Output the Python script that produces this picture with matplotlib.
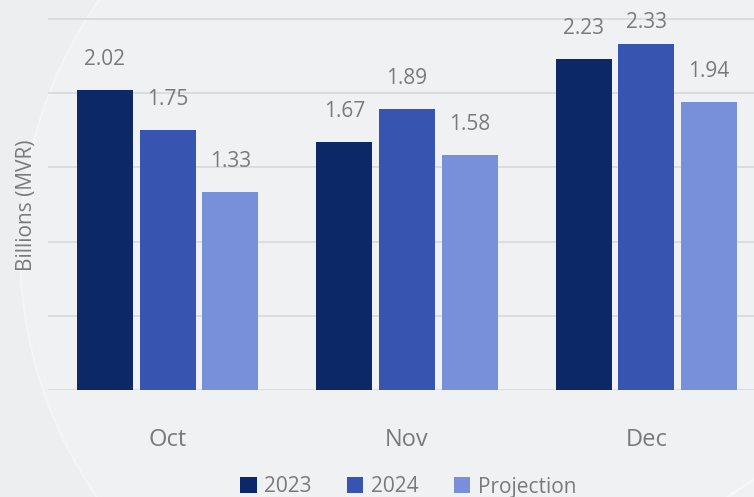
import matplotlib
matplotlib.use("Agg")
import matplotlib.pyplot as plt
import numpy as np
from matplotlib.patches import Circle

plt.rcParams['font.family'] = ['Open Sans', 'DejaVu Sans']

months = ["Oct", "Nov", "Dec"]
series_names = ["2023", "2024", "Projection"]
values_2023 = [2.02, 1.67, 2.23]
values_2024 = [1.75, 1.89, 2.33]
values_proj = [1.33, 1.58, 1.94]
colors = ["#0c2866", "#3755b0", "#7890da"]
yticks = [0, 0.5, 1.0, 1.5, 2.0, 2.5]

W, H = 754, 497
fig = plt.figure(figsize=(W / 100, H / 100), dpi=100)
bg = "#edeef0"
fig.patch.set_facecolor(bg)

# subtle decorative arc in background
bgax = fig.add_axes([0, 0, 1, 1], zorder=-5)
bgax.set_xlim(0, W)
bgax.set_ylim(H, 0)
bgax.axis("off")
bgax.add_patch(Circle((455, 250), 435, facecolor="#f0f1f3", edgecolor="#f4f5f6", lw=1.5))
bgax.add_patch(Circle((1000, 880), 470, facecolor="none", edgecolor="#f6f7f8", lw=2.0))

ax = fig.add_axes([48 / W, 1 - 390 / H, 1 - 48 / W, 390 / H])
ax.set_facecolor("none")
x = np.arange(len(months))
width = 0.234
step = 0.262
px_per_unit = 148.5
ytop = 390 / px_per_unit
label_gap = 25 / px_per_unit      # gap between bar top and label baseline
label_cap = (390 - 28) / px_per_unit  # keep labels inside plot area
series = [values_2023, values_2024, values_proj]
text_color = "#7a7a7a"
for i, (vals, name, c) in enumerate(zip(series, series_names, colors)):
    bars = ax.bar(x + (i - 1) * step, vals, width, color=c, label=name, zorder=3)
    for b, v in zip(bars, vals):
        ax.text(b.get_x() + b.get_width() / 2, min(v + label_gap, label_cap), f"{v:.2f}",
                ha="center", va="baseline", fontsize=15, color=text_color)

ax.set_xlim(-0.5, 2.45)
ax.set_ylim(0, ytop)
ax.set_yticks(yticks)
ax.yaxis.grid(True, color="#d6d8db", lw=1.2)
ax.set_axisbelow(True)
ax.tick_params(axis="y", length=0, labelleft=False)
ax.tick_params(axis="x", length=0, pad=27.5, labelsize=17, labelcolor=text_color)
ax.set_xticks(x)
ax.set_xticklabels(months)
for s in ax.spines.values():
    s.set_visible(False)
ax.set_ylabel("Billions (MVR)", fontsize=15, color=text_color)
ax.yaxis.set_label_coords(-11 / (W - 48), (390 - 205) / 390)

fig.legend(loc="center", bbox_to_anchor=(408 / W, 1 - 487 / H), ncol=3, frameon=False,
           fontsize=15, labelcolor=text_color, handlelength=0.8, handleheight=0.8,
           handletextpad=0.35, columnspacing=1.7, borderpad=0)

fig.savefig("out.png", dpi=100, facecolor=bg)
